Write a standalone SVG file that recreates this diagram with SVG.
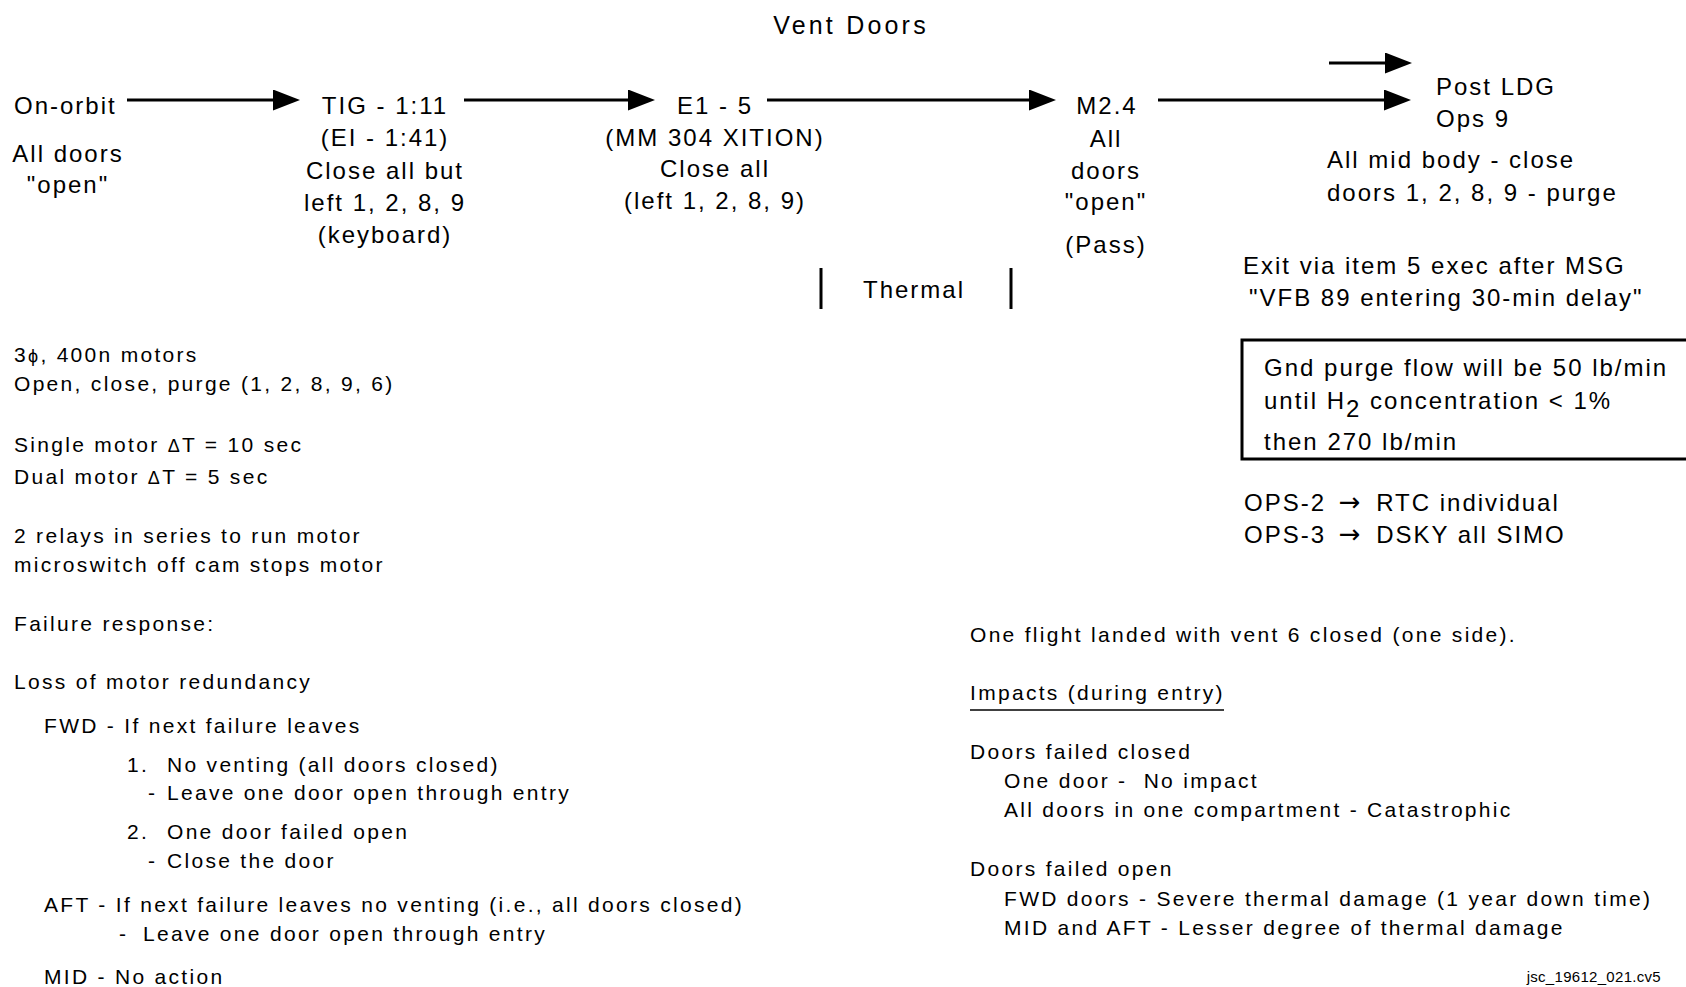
<svg xmlns="http://www.w3.org/2000/svg" width="1686" height="987" viewBox="0 0 1686 987">
<style>
text{font-family:"Liberation Sans",Arial,sans-serif;fill:#000}
.t24{font-size:24px;letter-spacing:2px}
.t21{font-size:21px;letter-spacing:2.3px}
.mid{text-anchor:middle}
.ln{stroke:#000;stroke-width:3;fill:none}
.sym{font-size:18px}
.arr{font-family:"DejaVu Sans",sans-serif;font-size:26px;letter-spacing:0}
</style>
<defs>
<marker id="ah" viewBox="0 0 27 21" markerWidth="27" markerHeight="21" refX="0" refY="10.5" orient="auto" markerUnits="userSpaceOnUse">
<path d="M0,0 L27,10.5 L0,21 Z" fill="#000"/>
</marker>
</defs>
<rect width="1686" height="987" fill="#fff"/>

<text x="851" y="34" class="mid" style="font-size:25px;letter-spacing:3.2px">Vent Doors</text>

<g id="connectors">
<line class="ln" x1="127" y1="100" x2="273" y2="100" marker-end="url(#ah)"/>
<line class="ln" x1="464" y1="100" x2="628" y2="100" marker-end="url(#ah)"/>
<line class="ln" x1="767" y1="100" x2="1029" y2="100" marker-end="url(#ah)"/>
<line class="ln" x1="1158" y1="100" x2="1384" y2="100" marker-end="url(#ah)"/>
<line class="ln" x1="1329" y1="63" x2="1385" y2="63" marker-end="url(#ah)"/>
</g>

<g id="on-orbit">
<text x="14" y="114" class="t24">On-orbit</text>
<text x="68" y="162" class="t24 mid">All doors</text>
<text x="68" y="193" class="t24 mid">"open"</text>
</g>

<g id="tig">
<text x="385" y="114" class="t24 mid">TIG - 1:11</text>
<text x="385" y="146" class="t24 mid">(EI - 1:41)</text>
<text x="385" y="179" class="t24 mid">Close all but</text>
<text x="385" y="211" class="t24 mid">left 1, 2, 8, 9</text>
<text x="385" y="243" class="t24 mid">(keyboard)</text>
</g>

<g id="e1">
<text x="715" y="114" class="t24 mid">E1 - 5</text>
<text x="715" y="146" class="t24 mid">(MM 304 XITION)</text>
<text x="715" y="177" class="t24 mid">Close all</text>
<text x="715" y="209" class="t24 mid">(left 1, 2, 8, 9)</text>
</g>

<g id="thermal">
<line class="ln" x1="821" y1="268" x2="821" y2="309"/>
<line class="ln" x1="1011" y1="268" x2="1011" y2="309"/>
<text x="914" y="298" class="t24 mid">Thermal</text>
</g>

<g id="m24">
<text x="1107" y="114" class="t24 mid">M2.4</text>
<text x="1106" y="147" class="t24 mid">All</text>
<text x="1106" y="179" class="t24 mid">doors</text>
<text x="1106" y="210" class="t24 mid">"open"</text>
<text x="1106" y="253" class="t24 mid">(Pass)</text>
</g>

<g id="post-ldg">
<text x="1436" y="95" class="t24">Post LDG</text>
<text x="1436" y="127" class="t24">Ops 9</text>
<text x="1327" y="168" class="t24">All mid body - close</text>
<text x="1327" y="201" class="t24">doors 1, 2, 8, 9 - purge</text>
<text x="1243" y="274" class="t24">Exit via item 5 exec after MSG</text>
<text x="1249" y="306" class="t24">"VFB 89 entering 30-min delay"</text>
</g>

<g id="purge-box">
<rect x="1242" y="340" width="460" height="119" class="ln"/>
<text x="1264" y="376" class="t24">Gnd purge flow will be 50 lb/min</text>
<text x="1264" y="409" class="t24">until H<tspan dy="8">2</tspan><tspan dy="-8"> concentration &lt; 1%</tspan></text>
<text x="1264" y="450" class="t24">then 270 lb/min</text>
</g>

<g id="ops">
<text x="1244" y="511" class="t24">OPS-2 <tspan class="arr" dx="4">→</tspan><tspan dx="7"> RTC individual</tspan></text>
<text x="1244" y="543" class="t24">OPS-3 <tspan class="arr" dx="4">→</tspan><tspan dx="7"> DSKY all SIMO</tspan></text>
</g>

<g id="motor-notes">
<text x="14" y="362" class="t21">3<tspan class="sym">ϕ</tspan>, 400n motors</text>
<text x="14" y="391" class="t21">Open, close, purge (1, 2, 8, 9, 6)</text>
<text x="14" y="452" class="t21">Single motor <tspan class="sym">Δ</tspan>T = 10 sec</text>
<text x="14" y="484" class="t21">Dual motor <tspan class="sym">Δ</tspan>T = 5 sec</text>
<text x="14" y="543" class="t21">2 relays in series to run motor</text>
<text x="14" y="572" class="t21">microswitch off cam stops motor</text>
</g>

<g id="failure-response">
<text x="14" y="631" class="t21">Failure response:</text>
<text x="14" y="689" class="t21">Loss of motor redundancy</text>
<text x="44" y="733" class="t21">FWD - If next failure leaves</text>
<text x="127" y="772" class="t21">1.<tspan x="167">No venting (all doors closed)</tspan></text>
<text x="148" y="800" class="t21">-<tspan x="167">Leave one door open through entry</tspan></text>
<text x="127" y="839" class="t21">2.<tspan x="167">One door failed open</tspan></text>
<text x="148" y="868" class="t21">-<tspan x="167">Close the door</tspan></text>
<text x="44" y="912" class="t21">AFT - If next failure leaves no venting (i.e., all doors closed)</text>
<text x="119" y="941" class="t21">-<tspan x="143">Leave one door open through entry</tspan></text>
<text x="44" y="984" class="t21">MID - No action</text>
</g>

<g id="impacts">
<text x="970" y="642" class="t21">One flight landed with vent 6 closed (one side).</text>
<text x="970" y="700" class="t21">Impacts (during entry)</text>
<line x1="970" y1="710" x2="1224" y2="710" stroke="#000" stroke-width="1.5"/>
<text x="970" y="759" class="t21">Doors failed closed</text>
<text x="1004" y="788" class="t21" xml:space="preserve">One door -  No impact</text>
<text x="1004" y="817" class="t21">All doors in one compartment - Catastrophic</text>
<text x="970" y="876" class="t21">Doors failed open</text>
<text x="1004" y="906" class="t21">FWD doors - Severe thermal damage (1 year down time)</text>
<text x="1004" y="935" class="t21">MID and AFT - Lesser degree of thermal damage</text>
</g>

<text x="1661" y="982" style="font-size:15px;letter-spacing:0.3px;text-anchor:end">jsc_19612_021.cv5</text>
</svg>
